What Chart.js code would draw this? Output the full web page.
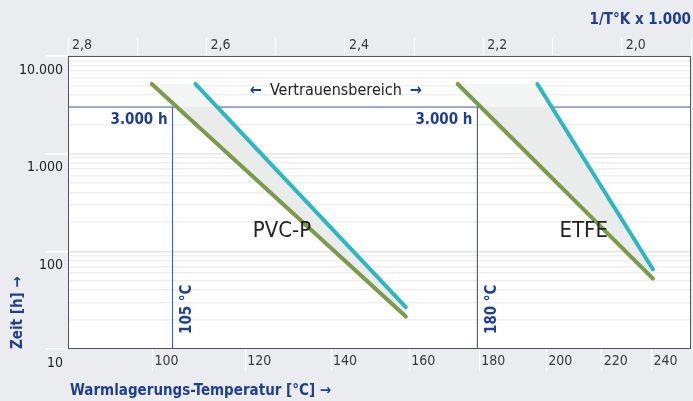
<!DOCTYPE html>
<html>
<head>
<meta charset="utf-8">
<script src="https://cdn.jsdelivr.net/npm/chart.js@4.4.1/dist/chart.umd.min.js"></script>
<style>
  html, body { margin: 0; padding: 0; background: #ebecf0; }
  #wrap { width: 693px; height: 401px; }
</style>
</head>
<body>
<div id="wrap"><canvas id="chart"></canvas></div>
<script>
const pvcGreenX = [2.679, 2.312];
const pvcGreenH = [5170, 21.5];
const pvcCyanX = [2.616, 2.312];
const pvcCyanH = [5170, 26.8];
const etfeGreenX = [2.237, 1.955];
const etfeGreenH = [5170, 52.5];
const etfeCyanX = [2.122, 1.955];
const etfeCyanH = [5170, 65.6];

const limitHours = 3000;
const limitX = [2.649, 2.2085];
const limitLabels = ["105 °C", "180 °C"];
const bandNames = ["PVC-P", "ETFE"];

const topTicks = [2.8, 2.7, 2.6, 2.5, 2.4, 2.3, 2.2, 2.1, 2.0, 1.9];
const topTickLabels = ["2,8", "", "2,6", "", "2,4", "", "2,2", "", "2,0", ""];
const tempTickPos = [2.678, 2.544, 2.420, 2.307, 2.206, 2.109, 2.029, 1.957];
const tempTickLabels = ["100", "120", "140", "160", "180", "200", "220", "240"];
const yDecades = [10, 100, 1000, 10000];
const yDecadeLabels = ["10", "100", "1.000", "10.000"];

const NARROW = "'Liberation Sans Narrow', 'DejaVu Sans Condensed', Roboto, sans-serif";
const BLUE = "#1f3f8f";
const GREEN = "#7a9a4e";
const CYAN = "#2db7c0";
const LIMIT = "#4660a6";

function pts(xs, hs) {
  return xs.map((x, i) => ({ x: x, y: hs[i] }));
}

var yGrid = [];
for (let d = 10; d < 10000; d *= 10) {
  for (let m = 1; m < 10; m++) yGrid.push(d * m);
}
yGrid.push(10000);

const bands = [
  { green: pts(pvcGreenX, pvcGreenH), cyan: pts(pvcCyanX, pvcCyanH) },
  { green: pts(etfeGreenX, etfeGreenH), cyan: pts(etfeCyanX, etfeCyanH) },
];

const decor = {
  id: "decor",
  beforeDraw(chart) {
    const { ctx, chartArea: a } = chart;
    ctx.save();
    ctx.fillStyle = "#ebecf0";
    ctx.fillRect(0, 0, chart.width, chart.height);
    ctx.fillStyle = "#ffffff";
    ctx.fillRect(a.left, a.top, a.right - a.left, a.bottom - a.top);
    ctx.restore();
  },
  beforeDatasetDraw(chart, args) {
    // band fill goes under the coloured lines but over the limit lines
    if (args.index !== 3) return;
    const { ctx, chartArea: a } = chart;
    const xs = chart.scales.x;
    const ys = chart.scales.y;
    const yLim = ys.getPixelForValue(limitHours);
    bands.forEach((b) => {
      const poly = [b.green[0], b.cyan[0], b.cyan[1], b.green[1]].map((p) => [
        xs.getPixelForValue(p.x),
        ys.getPixelForValue(p.y),
      ]);
      [[a.top, yLim, "#f4f5f5"], [yLim, a.bottom, "#eaeceb"]].forEach((r) => {
        ctx.save();
        ctx.beginPath();
        ctx.rect(a.left, r[0], a.right - a.left, r[1] - r[0]);
        ctx.clip();
        ctx.beginPath();
        poly.forEach((p, i) => (i ? ctx.lineTo(p[0], p[1]) : ctx.moveTo(p[0], p[1])));
        ctx.closePath();
        ctx.fillStyle = r[2];
        ctx.fill();
        ctx.restore();
      });
    });
  },
  afterDatasetsDraw(chart) {
    const { ctx, chartArea: a } = chart;
    const xs = chart.scales.x;
    const ys = chart.scales.y;
    ctx.save();
    ctx.strokeStyle = "#555555";
    ctx.lineWidth = 1;
    ctx.strokeRect(a.left + 0.5, a.top + 0.5, a.right - a.left - 1, a.bottom - a.top - 1);

    const yLim = ys.getPixelForValue(limitHours);
    ctx.textBaseline = "middle";

    // confidence range label
    ctx.font = "16px " + NARROW;
    const label = "Vertrauensbereich";
    const w = ctx.measureText(label).width;
    const cx = xs.getPixelForValue(2.413);
    const cy = ys.getPixelForValue(4380);
    ctx.fillStyle = "#222222";
    ctx.textAlign = "center";
    ctx.fillText(label, cx, cy);
    ctx.fillStyle = BLUE;
    ctx.font = "bold 16px " + NARROW;
    ctx.textAlign = "right";
    ctx.fillText("←", cx - w / 2 - 8, cy);
    ctx.textAlign = "left";
    ctx.fillText("→", cx + w / 2 + 8, cy);

    // limit labels
    limitX.forEach((v, i) => {
      const px = xs.getPixelForValue(v);
      ctx.fillStyle = BLUE;
      ctx.font = "bold 15px " + NARROW;
      ctx.textAlign = "right";
      ctx.fillText("3.000 h", px - 5, yLim + 13);
      ctx.save();
      ctx.translate(px + 15, a.bottom - 15);
      ctx.rotate(-Math.PI / 2);
      ctx.textAlign = "left";
      ctx.fillText(limitLabels[i], 0, 0);
      ctx.restore();
    });

    // material names
    ctx.fillStyle = "#222222";
    ctx.font = "22px " + NARROW;
    ctx.textAlign = "left";
    ctx.fillText(bandNames[0], xs.getPixelForValue(2.533), ys.getPixelForValue(160));
    ctx.fillText(bandNames[1], xs.getPixelForValue(2.090), ys.getPixelForValue(160));

    // axis titles (x axes are reversed, so drawn here)
    ctx.fillStyle = BLUE;
    ctx.font = "bold 15px " + NARROW;
    ctx.textAlign = "right";
    ctx.fillText("1/T°K x 1.000", a.right, 20);
    ctx.textAlign = "left";
    ctx.fillText("Warmlagerungs-Temperatur [°C] →", a.left + 2, 391);
    ctx.restore();
  },
};

const lineStyle = { borderWidth: 4, borderCapStyle: "round", pointRadius: 0, fill: false, tension: 0 };
const limitStyle = { borderColor: LIMIT, borderWidth: 1, pointRadius: 0, fill: false };

const ctx = document.getElementById("chart").getContext("2d");
new Chart(ctx, {
  type: "line",
  data: {
    datasets: [
      Object.assign({ label: "PVC-P min", data: bands[0].green, borderColor: GREEN }, lineStyle),
      Object.assign({ label: "PVC-P max", data: bands[0].cyan, borderColor: CYAN }, lineStyle),
      Object.assign({ label: "ETFE min", data: bands[1].green, borderColor: GREEN }, lineStyle),
      Object.assign({ label: "ETFE max", data: bands[1].cyan, borderColor: CYAN }, lineStyle),
      Object.assign({ label: "3000 h", data: [{ x: 2.8, y: limitHours }, { x: 1.9, y: limitHours }] }, limitStyle),
      Object.assign({ label: limitLabels[0], data: [{ x: limitX[0], y: limitHours }, { x: limitX[0], y: 10 }] }, limitStyle),
      Object.assign({ label: limitLabels[1], data: [{ x: limitX[1], y: limitHours }, { x: limitX[1], y: 10 }] }, limitStyle),
    ],
  },
  options: {
    responsive: true,
    maintainAspectRatio: false,
    animation: false,
    layout: { padding: { right: 2 } },
    plugins: { legend: { display: false }, tooltip: { enabled: false } },
    scales: {
      x: {
        type: "linear",
        position: "top",
        reverse: true,
        min: 1.9,
        max: 2.8,
        afterBuildTicks: (s) => { s.ticks = topTicks.map((v) => ({ value: v })); },
        afterFit: (s) => { s.height = 56; },
        ticks: {
          autoSkip: false,
          maxRotation: 0,
          align: "start",
          labelOffset: 4,
          padding: -15.4,
          color: "#3a3a3a",
          font: { family: NARROW, size: 14 },
          callback: (v, i) => topTickLabels[i],
        },
        grid: { drawOnChartArea: false, tickLength: 18, tickColor: "#ffffff", lineWidth: 1 },
        border: { display: false },
      },
      x2: {
        type: "linear",
        position: "bottom",
        reverse: true,
        min: 1.9,
        max: 2.8,
        afterBuildTicks: (s) => { s.ticks = tempTickPos.map((v) => ({ value: v })); },
        afterFit: (s) => { s.height = 52; },
        ticks: {
          autoSkip: false,
          maxRotation: 0,
          align: "start",
          labelOffset: 2,
          padding: -17.7,
          color: "#3a3a3a",
          font: { family: NARROW, size: 14 },
          callback: (v, i) => tempTickLabels[i],
        },
        grid: { drawOnChartArea: false, tickLength: 22, tickColor: "#ffffff", lineWidth: 1 },
        border: { display: false },
      },
      y: {
        type: "logarithmic",
        position: "left",
        min: 10,
        max: 10000,
        afterBuildTicks: (s) => { s.ticks = yGrid.map((v) => ({ value: v })); },
        afterFit: (s) => { s.width = 68; },
        ticks: {
          autoSkip: false,
          labelOffset: 14,
          padding: -17,
          color: "#222222",
          font: { family: NARROW, size: 14 },
          callback: (v) => {
            const i = yDecades.indexOf(v);
            return i >= 0 ? yDecadeLabels[i] : "";
          },
        },
        grid: {
          color: (c) => (yDecades.indexOf(c.tick.value) >= 0 ? "#e6e6e6" : "#efefef"),
          lineWidth: 1.5,
          tickLength: 22,
          tickColor: (c) => (yDecades.indexOf(c.tick.value) >= 0 ? "#ffffff" : "rgba(0,0,0,0)"),
        },
        border: { display: false },
        title: {
          display: true,
          text: "Zeit [h] →",
          align: "start",
          color: BLUE,
          font: { family: NARROW, size: 15, weight: "bold" },
          padding: { top: 9, bottom: 0 },
        },
      },
    },
  },
  plugins: [decor],
});
</script>
</body>
</html>
